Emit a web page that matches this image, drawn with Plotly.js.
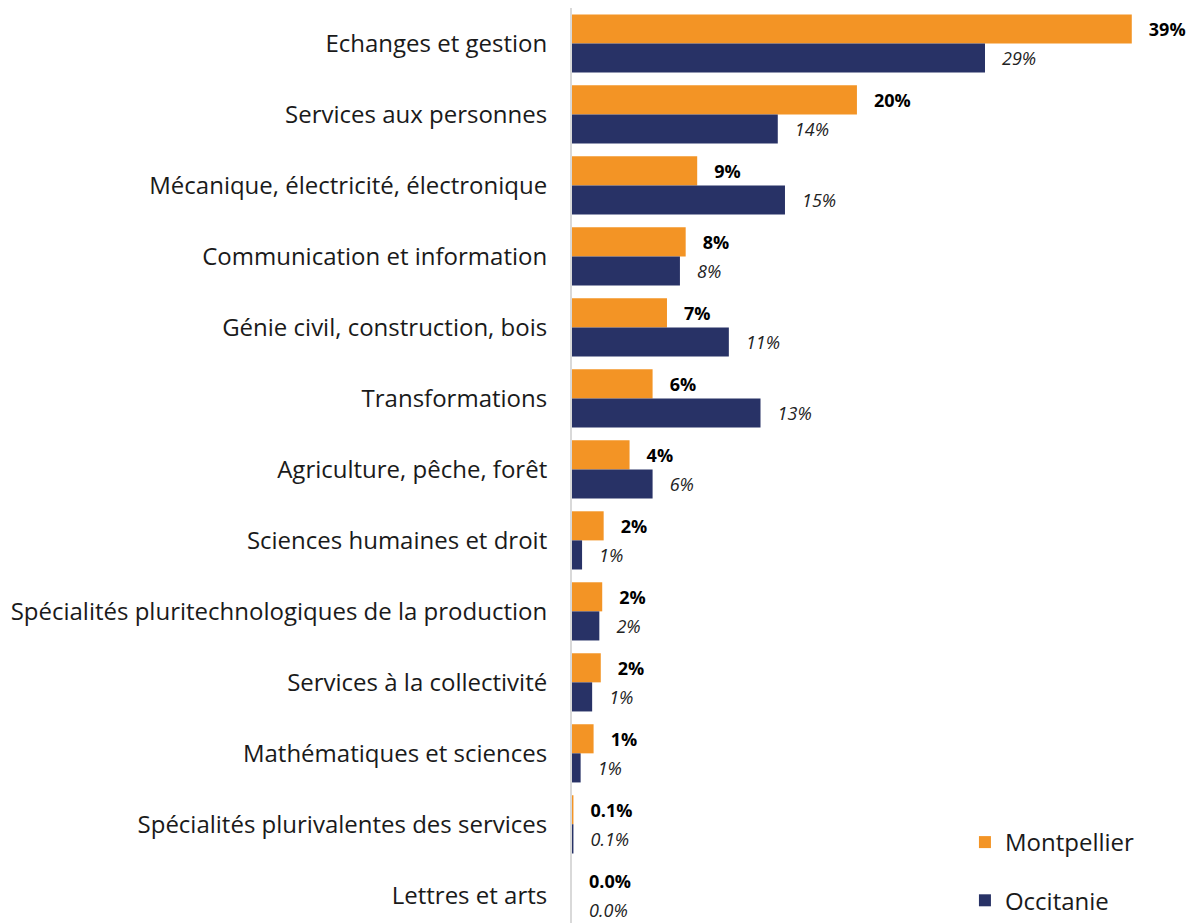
<!DOCTYPE html>
<html>
<head>
<meta charset="utf-8">
<script src="https://cdn.plot.ly/plotly-3.0.1.min.js"></script>
<style>html,body{margin:0;padding:0;background:#fff;}#chart{width:1192px;height:923px;}</style>
</head>
<body>
<div id="chart"></div>
<script>
const categories = [
  "Echanges et gestion",
  "Services aux personnes",
  "Mécanique, électricité, électronique",
  "Communication et information",
  "Génie civil, construction, bois",
  "Transformations",
  "Agriculture, pêche, forêt",
  "Sciences humaines et droit",
  "Spécialités pluritechnologiques de la production",
  "Services à la collectivité",
  "Mathématiques et sciences",
  "Spécialités plurivalentes des services",
  "Lettres et arts"
];
const montpellier = [38.9, 19.8, 8.7, 7.9, 6.6, 5.6, 4.0, 2.2, 2.1, 2.0, 1.5, 0.1, 0.0];
const occitanie   = [28.7, 14.3, 14.8, 7.5, 10.9, 13.1, 5.6, 0.7, 1.9, 1.4, 0.6, 0.1, 0.0];
const montpellierLabels = ["39%","20%","9%","8%","7%","6%","4%","2%","2%","2%","1%","0.1%","0.0%"];
const occitanieLabels   = ["29%","14%","15%","8%","11%","13%","6%","1%","2%","1%","1%","0.1%","0.0%"];

const pad = "\u00a0\u00a0\u00a0";
const traces = [
  {
    type: "bar", orientation: "h", name: "Montpellier", legendgroup: "m",
    y: categories, x: montpellier,
    text: montpellierLabels.map(t => pad + "<b>" + t + "</b>"),
    textposition: "outside", cliponaxis: false,
    textfont: {family: "Open Sans", size: 18, color: "#000"},
    marker: {color: "#F39425"}, hoverinfo: "none"
  },
  {
    type: "bar", orientation: "h", name: "Occitanie", legendgroup: "o",
    y: categories, x: occitanie,
    text: occitanieLabels.map(t => pad + "<i>" + t + "</i>"),
    textposition: "outside", cliponaxis: false,
    textfont: {family: "Open Sans", size: 18, color: "#222"},
    marker: {color: "#283266"}, hoverinfo: "none"
  }
];

const layout = {
  width: 1192, height: 923,
  margin: {l: 572, r: 30, t: 8, b: 0},
  paper_bgcolor: "#fff", plot_bgcolor: "#fff",
  font: {family: "Open Sans", size: 24, color: "#1a1a1a"},
  barmode: "group", bargap: 0.18, bargroupgap: 0,
  xaxis: {range: [0, 41], showgrid: false, zeroline: false, showticklabels: false, showline: false, fixedrange: true},
  yaxis: {
    range: [12.39, -0.5], type: "category",
    showgrid: false, zeroline: false,
    showline: true, linecolor: "#d9d9d9", linewidth: 2,
    ticks: "outside", ticklen: 18, tickcolor: "rgba(0,0,0,0)",
    tickfont: {family: "Open Sans", size: 24, color: "#1a1a1a"}
  },
  showlegend: true,
  legend: {
    x: 0.666, xanchor: "left", y: 0, yanchor: "bottom",
    traceorder: "grouped", tracegroupgap: 24,
    font: {family: "Open Sans", size: 24, color: "#1a1a1a"},
    bgcolor: "rgba(0,0,0,0)"
  }
};

Plotly.newPlot("chart", traces, layout, {displayModeBar: false, staticPlot: true});
</script>
</body>
</html>
